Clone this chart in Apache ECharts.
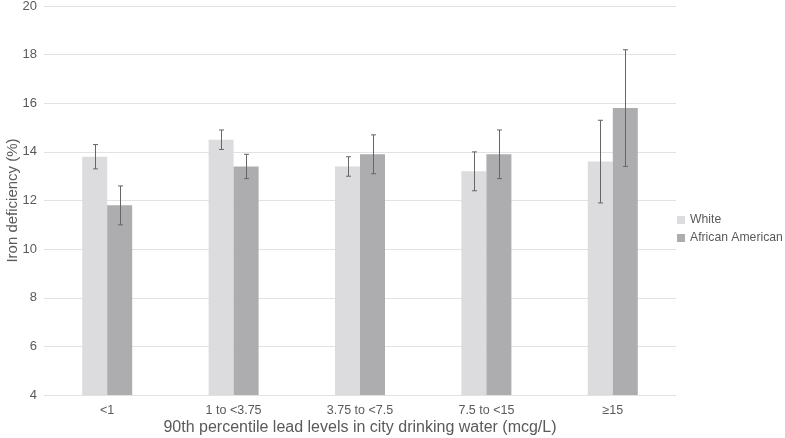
<!DOCTYPE html>
<html>
<head>
<meta charset="utf-8">
<script src="https://cdn.jsdelivr.net/npm/echarts@6/dist/echarts.min.js"></script>
<style>
  html, body { margin: 0; padding: 0; background: #fff; }
  #chart { width: 785px; height: 438px; }
</style>
</head>
<body>
<div id="chart"></div>
<script>
const categories = ['<1', '1 to <3.75', '3.75 to <7.5', '7.5 to <15', '≥15']
const whiteValues = [13.8, 14.5, 13.4, 13.2, 13.6]
const whiteLow = [13.3, 14.1, 13.0, 12.4, 11.9]
const whiteHigh = [14.3, 14.9, 13.8, 14.0, 15.3]
const aaValues = [11.8, 13.4, 13.9, 13.9, 15.8]
const aaLow = [11.0, 12.9, 13.1, 12.9, 13.4]
const aaHigh = [12.6, 13.9, 14.7, 14.9, 18.2]

const barWidth = 25
const textColor = '#5a5a5a'

function errorSeries (low, high, offset) {
  return {
    type: 'custom',
    z: 10,
    silent: true,
    data: categories.map((c, i) => [i, low[i], high[i]]),
    renderItem: function (params, api) {
      const lo = api.coord([api.value(0), api.value(1)])
      const hi = api.coord([api.value(0), api.value(2)])
      const x = Math.round(lo[0] + offset) + 0.5
      const cap = 2.5
      const style = { stroke: '#666', lineWidth: 1 }
      return {
        type: 'group',
        children: [
          { type: 'line', shape: { x1: x, y1: hi[1], x2: x, y2: lo[1] }, style: style },
          { type: 'line', shape: { x1: x - cap, y1: hi[1], x2: x + cap, y2: hi[1] }, style: style },
          { type: 'line', shape: { x1: x - cap, y1: lo[1], x2: x + cap, y2: lo[1] }, style: style }
        ]
      }
    }
  }
}

const chart = echarts.init(document.getElementById('chart'))
const option = {
  animation: false,
  textStyle: { fontFamily: 'Liberation Sans, Arial, sans-serif' },
  grid: { left: 44, right: 109, top: 6, bottom: 43, containLabel: false, outerBoundsMode: 'none' },
  legend: {
    orient: 'vertical',
    left: 672,
    top: 209,
    itemWidth: 8,
    itemHeight: 8,
    itemGap: 6,
    icon: 'rect',
    textStyle: { color: textColor, fontSize: 12.2 },
    data: ['White', 'African American']
  },
  xAxis: {
    type: 'category',
    data: categories,
    name: '90th percentile lead levels in city drinking water (mcg/L)',
    nameLocation: 'middle',
    nameGap: 25,
    nameMoveOverlap: false,
    nameTextStyle: { color: textColor, fontSize: 16 },
    axisLine: { show: false },
    axisTick: { show: false },
    axisLabel: { color: textColor, fontSize: 12.5, margin: 9 }
  },
  yAxis: {
    type: 'value',
    min: 4,
    max: 20,
    interval: 2,
    name: 'Iron deficiency (%)',
    nameLocation: 'middle',
    nameGap: 24,
    nameMoveOverlap: false,
    nameTextStyle: { color: textColor, fontSize: 15 },
    axisLine: { show: false },
    axisTick: { show: false },
    axisLabel: { color: textColor, fontSize: 13, margin: 7 },
    splitLine: { lineStyle: { color: '#e2e2e2', width: 1 } }
  },
  series: [
    {
      name: 'White',
      type: 'bar',
      barWidth: barWidth,
      barGap: '0%',
      itemStyle: { color: '#dcdcde' },
      data: whiteValues
    },
    {
      name: 'African American',
      type: 'bar',
      barWidth: barWidth,
      barGap: '0%',
      itemStyle: { color: '#adadb0' },
      data: aaValues
    },
    errorSeries(whiteLow, whiteHigh, -barWidth / 2),
    errorSeries(aaLow, aaHigh, barWidth / 2)
  ]
}
chart.setOption(option)
window.addEventListener('resize', function () {
  chart.resize()
})
</script>
</body>
</html>
